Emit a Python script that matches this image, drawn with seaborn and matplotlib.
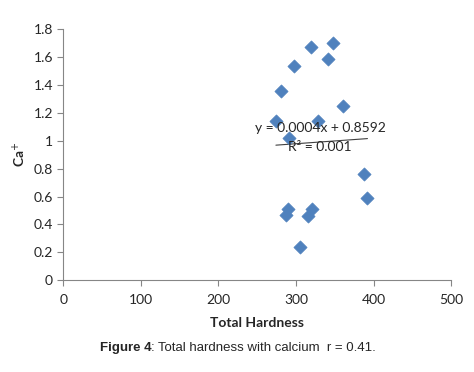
import numpy as np
import pandas as pd
import matplotlib
matplotlib.use("Agg")
import matplotlib.pyplot as plt
import seaborn as sns

# values
total_hardness = [347, 319, 341, 297, 281, 360, 274, 328, 291, 387, 392, 289, 287, 321, 315, 305]
calcium = [1.70, 1.67, 1.59, 1.54, 1.36, 1.25, 1.14, 1.14, 1.02, 0.76, 0.59, 0.51, 0.47, 0.51, 0.46, 0.24]
slope = 0.0004
intercept = 0.8592
r_squared = 0.001

df = pd.DataFrame({"Total Hardness": total_hardness, "Ca": calcium})

sns.set_style("white")
plt.rcParams['font.family'] = ['Lato', 'DejaVu Sans']

fig = plt.figure(figsize=(4.74, 3.72), dpi=100)
ax = fig.add_axes([0.1336, 0.247, 0.8184, 0.674])

sns.scatterplot(data=df, x="Total Hardness", y="Ca", marker="D", s=45,
                color="#4F81BD", edgecolor="#4F81BD", linewidth=0.5, ax=ax, zorder=3)

# linear trendline from the printed equation
xs = np.array([min(total_hardness), max(total_hardness)])
ax.plot(xs, slope * xs + intercept, color="#404040", lw=0.8, zorder=2)
ax.text(331, 1.09, "y = 0.0004x + 0.8592", ha="center", va="center", fontsize=10, zorder=4)
ax.text(331, 0.955, "R² = 0.001", ha="center", va="center", fontsize=10, zorder=4)

ax.set_xlim(0, 500)
ax.set_ylim(0, 1.8)
ax.set_xticks([0, 100, 200, 300, 400, 500])
ax.set_yticks(np.arange(0, 1.81, 0.2))
ax.set_yticklabels(["0", "0.2", "0.4", "0.6", "0.8", "1", "1.2", "1.4", "1.6", "1.8"])
ax.tick_params(axis="both", direction="out", length=4, width=0.8, color="#868686",
               labelsize=10, bottom=True, left=True)
ax.tick_params(axis="x", pad=6)
for side in ["top", "right"]:
    ax.spines[side].set_visible(False)
for side in ["left", "bottom"]:
    ax.spines[side].set_color("#868686")
    ax.spines[side].set_linewidth(0.8)

ax.set_xlabel("Total Hardness", fontsize=10, fontweight="bold", labelpad=8)
ax.set_ylabel("Ca$^{+}$", fontsize=10, fontweight="bold", labelpad=4)

fig.text(0.3196, 0.064, "Figure 4", fontsize=9.5, fontweight="bold",
         family=["Liberation Sans"], ha="right", va="center")
fig.text(0.3196, 0.064, ": Total hardness with calcium  r = 0.41.", fontsize=9.5,
         family=["Liberation Sans"], ha="left", va="center")

fig.savefig("out.png", dpi=100, facecolor="white")
